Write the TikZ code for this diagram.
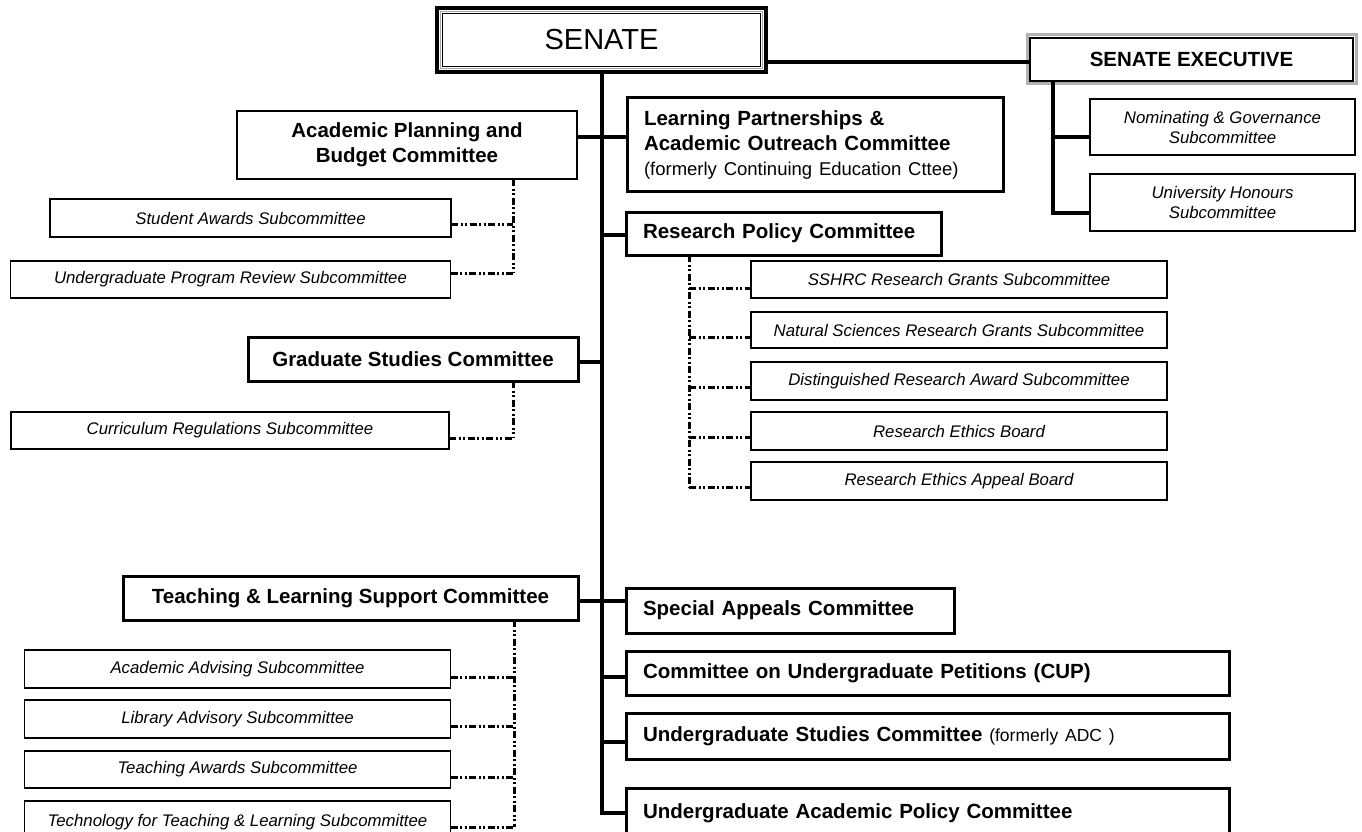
\documentclass[tikz,border=0pt]{standalone}
\usepackage{fontspec}
\setmainfont{Liberation Sans}
\begin{document}
\begin{tikzpicture}[x=1pt,y=-1pt,
  base/.style={draw=black, fill=white, inner sep=0pt, outer sep=0pt, align=center},
  subbox/.style={base, line width=1.3pt, font=\fontsize{16.8}{20}\selectfont\itshape},
  thinbold/.style={base, line width=1.3pt, font=\fontsize{20.5}{25}\selectfont\bfseries},
  combox/.style={base, line width=3pt, font=\fontsize{20.5}{25}\selectfont\bfseries},
  leftbox/.style={combox, align=left},
  conn/.style={line width=3.5pt, line join=miter},
  dd/.style={line width=3pt, dash pattern=on 7pt off 2.5pt on 2pt off 2.5pt on 2pt off 2.5pt}]
\useasboundingbox (0,0) rectangle (1362,832);
\fill[white] (0,0) rectangle (1362,832);
\clip (0,0) rectangle (1362,832);

% SENATE
\node[base, line width=4pt, minimum width=329pt, minimum height=64pt,
      font=\fontsize{29}{34}\selectfont] (senate) at (601.5,40) {SENATE};
\draw[gray!70, line width=1.5pt] ([shift={(3.5,3.5)}]senate.north west) rectangle ([shift={(-3.5,-3.5)}]senate.south east);
\draw[black, line width=1pt] ([shift={(5.5,5.5)}]senate.north west) rectangle ([shift={(-5.5,-5.5)}]senate.south east);

% SENATE EXECUTIVE
\node[thinbold, line width=1.5pt, minimum width=323pt, minimum height=43pt] (exec) at (1191.5,59.5) {SENATE EXECUTIVE};
\draw[gray!60, line width=3pt] ([shift={(-3,-3)}]exec.north west) rectangle ([shift={(3,3)}]exec.south east);
\node[subbox, minimum width=265pt, minimum height=56pt] (nom) at (1222.5,127) {Nominating \& Governance\\Subcommittee};
\node[subbox, minimum width=265pt, minimum height=57pt] (uh) at (1222.5,202.5) {University Honours\\Subcommittee};

% Academic Planning
\node[thinbold, minimum width=340pt, minimum height=68pt] (apb) at (407,145) {Academic Planning and\\Budget Committee};
\node[subbox, minimum width=401pt, minimum height=38pt] (sa) at (250.5,218) {Student Awards Subcommittee};
\node[subbox, minimum width=440pt, minimum height=37pt] (upr) at (230.5,279.5) {Undergraduate Program Review Subcommittee};

% Learning Partnerships
\node[leftbox, minimum width=376pt, minimum height=93pt, text width=342pt] (lp) at (815,144.5)
  {Learning Partnerships \&\\Academic Outreach Committee\\{\fontsize{18.5}{25}\selectfont\mdseries (formerly Continuing Education Cttee)}};

% Graduate Studies
\node[combox, minimum width=330pt, minimum height=44pt] (grad) at (413,359) {Graduate Studies Committee};
\node[subbox, minimum width=438pt, minimum height=37pt] (cur) at (230,430.5) {Curriculum Regulations Subcommittee};

% Research Policy
\node[leftbox, minimum width=315pt, minimum height=43pt, text width=281pt] (rpc) at (783.5,233.5) {Research Policy Committee};
\node[subbox, minimum width=416pt, minimum height=37pt] (sshrc) at (959,279.5) {SSHRC Research Grants Subcommittee};
\node[subbox, minimum width=416pt, minimum height=36pt] (nat) at (959,330) {Natural Sciences Research Grants Subcommittee};
\node[subbox, minimum width=416pt, minimum height=38pt] (dist) at (959,381) {Distinguished Research Award Subcommittee};
\node[subbox, minimum width=416pt, minimum height=38pt] (reb) at (959,431) {Research Ethics Board};
\node[subbox, minimum width=416pt, minimum height=38pt] (reab) at (959,481) {Research Ethics Appeal Board};

% Teaching & Learning
\node[combox, minimum width=455pt, minimum height=44pt] (tls) at (350.5,598) {Teaching \& Learning Support Committee};
\node[subbox, minimum width=426pt, minimum height=38pt] (aa) at (237.5,669) {Academic Advising Subcommittee};
\node[subbox, minimum width=426pt, minimum height=38pt] (la) at (237.5,719) {Library Advisory Subcommittee};
\node[subbox, minimum width=426pt, minimum height=37pt] (ta) at (237.5,769.5) {Teaching Awards Subcommittee};
\node[subbox, minimum width=426pt, minimum height=42pt] (tech) at (237.5,822) {Technology for Teaching \& Learning Subcommittee};

% Right column
\node[leftbox, minimum width=328pt, minimum height=45pt, text width=294pt] (sac) at (790,610.5) {Special Appeals Committee};
\node[leftbox, minimum width=603pt, minimum height=44pt, text width=569pt] (cup) at (927.5,673) {Committee on Undergraduate Petitions (CUP)};
\node[leftbox, minimum width=603pt, minimum height=46pt, text width=569pt] (usc) at (927.5,736)
  {Undergraduate Studies Committee {\fontsize{17.5}{20}\selectfont\mdseries (formerly ADC )}};
\node[leftbox, minimum width=603pt, minimum height=50pt, text width=569pt] (uapc) at (927.5,813) {Undergraduate Academic Policy Committee};

% junction coordinates
\coordinate (ex) at (900,62);
\coordinate (jE) at (1053,137);
\coordinate (jE2) at (1053,213);
\coordinate (t1) at (602,137);
\coordinate (t2) at (602,235);
\coordinate (t3) at (602,362);
\coordinate (t4) at (602,601);
\coordinate (t5) at (602,677);
\coordinate (t6) at (602,742);
\coordinate (t7) at (602,813);

% solid connectors
\draw[conn] (senate.east |- ex) -- (exec.west |- ex);
\draw[conn] (exec.south -| jE) -- (jE2) -- (uh.west |- jE2);
\draw[conn] (jE) -- (nom.west |- jE);
\draw[conn] (senate.south -| t1) -- (t7) -- (uapc.west |- t7);
\draw[conn] (apb.east |- t1) -- (lp.west |- t1);
\draw[conn] (t2) -- (rpc.west |- t2);
\draw[conn] (grad.east |- t3) -- (t3);
\draw[conn] (tls.east |- t4) -- (sac.west |- t4);
\draw[conn] (t5) -- (cup.west |- t5);
\draw[conn] (t6) -- (usc.west |- t6);

% dash-dot connectors: Academic Planning
\coordinate (a1) at (513,224);
\coordinate (a2) at (513,273);
\draw[dd] (apb.south -| a1) -- (a2);
\draw[dd] (sa.east |- a1) -- (a1);
\draw[dd] (upr.east |- a2) -- (a2);

% Graduate
\coordinate (g1) at (513,438);
\draw[dd] (grad.south -| g1) -- (g1);
\draw[dd] (cur.east |- g1) -- (g1);

% Research
\coordinate (r1) at (689,288);
\coordinate (r2) at (689,337);
\coordinate (r3) at (689,387);
\coordinate (r4) at (689,437);
\coordinate (r5) at (689,487);
\draw[dd] (rpc.south -| r1) -- (r5);
\draw[dd] (r1) -- (sshrc.west |- r1);
\draw[dd] (r2) -- (nat.west |- r2);
\draw[dd] (r3) -- (dist.west |- r3);
\draw[dd] (r4) -- (reb.west |- r4);
\draw[dd] (r5) -- (reab.west |- r5);

% Teaching
\coordinate (e1) at (514,677);
\coordinate (e2) at (514,726);
\coordinate (e3) at (514,777);
\coordinate (e4) at (514,827);
\draw[dd] (tls.south -| e1) -- (e4);
\draw[dd] (aa.east |- e1) -- (e1);
\draw[dd] (la.east |- e2) -- (e2);
\draw[dd] (ta.east |- e3) -- (e3);
\draw[dd] (tech.east |- e4) -- (e4);
\end{tikzpicture}
\end{document}
